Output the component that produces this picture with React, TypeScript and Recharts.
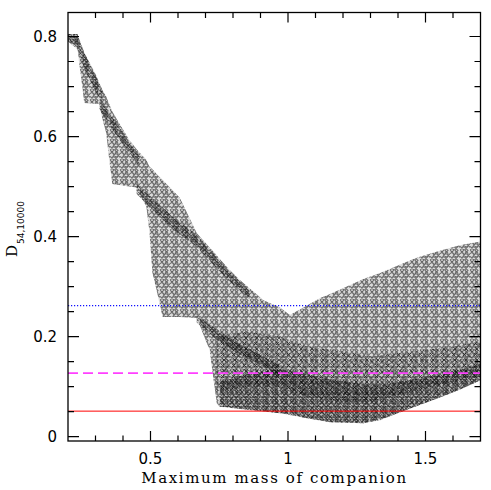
import React from "react";
import { ComposedChart, Area, XAxis, YAxis, ReferenceLine } from "recharts";

// outer envelope of the cloud of points (x = max companion mass, D low/high)
const envX = [0.2, 0.234, 0.241, 0.252, 0.259, 0.314, 0.325, 0.339, 0.35, 0.361, 0.423, 0.449, 0.485, 0.496, 0.507, 0.522, 0.544, 0.606, 0.668, 0.715, 0.726, 0.741, 0.752, 0.788, 0.825, 0.887, 0.909, 0.971, 1.007, 1.069, 1.117, 1.153, 1.214, 1.274, 1.335, 1.361, 1.456, 1.482, 1.555, 1.628, 1.7];
const envLow = [0.79, 0.78, 0.745, 0.7, 0.667, 0.665, 0.635, 0.607, 0.553, 0.505, 0.5, 0.498, 0.459, 0.41, 0.327, 0.293, 0.239, 0.239, 0.237, 0.173, 0.127, 0.067, 0.06, 0.059, 0.056, 0.053, 0.051, 0.047, 0.045, 0.037, 0.033, 0.029, 0.028, 0.027, 0.033, 0.039, 0.059, 0.064, 0.079, 0.095, 0.113];
const envHigh = [0.805, 0.805, 0.792, 0.778, 0.767, 0.705, 0.693, 0.68, 0.665, 0.65, 0.593, 0.575, 0.553, 0.54, 0.535, 0.525, 0.513, 0.478, 0.407, 0.378, 0.372, 0.362, 0.355, 0.333, 0.313, 0.284, 0.273, 0.258, 0.243, 0.262, 0.277, 0.285, 0.3, 0.315, 0.327, 0.333, 0.355, 0.36, 0.372, 0.383, 0.39];

// denser streaks inside the cloud
const ridge1X = [0.2, 0.234, 0.26, 0.3, 0.325];
const ridge1Low = [0.79, 0.775, 0.735, 0.69, 0.668];
const ridge1High = [0.805, 0.805, 0.767, 0.725, 0.693];

const ridge2X = [0.314, 0.36, 0.42, 0.46];
const ridge2Low = [0.655, 0.615, 0.57, 0.54];
const ridge2High = [0.675, 0.64, 0.59, 0.56];

const ridge3X = [0.449, 0.58, 0.668, 0.777, 0.86];
const ridge3Low = [0.485, 0.415, 0.38, 0.315, 0.275];
const ridge3High = [0.505, 0.44, 0.403, 0.335, 0.292];

const ridge4X = [0.668, 0.726, 0.814, 0.887, 0.97];
const ridge4Low = [0.228, 0.2, 0.167, 0.147, 0.122];
const ridge4High = [0.242, 0.22, 0.188, 0.167, 0.142];

const midX = [0.74, 0.85, 0.97, 1.07, 1.2, 1.3, 1.45, 1.6, 1.7];
const midLow = [0.09, 0.1, 0.1, 0.08, 0.07, 0.07, 0.09, 0.11, 0.12];
const midHigh = [0.2, 0.21, 0.2, 0.18, 0.17, 0.16, 0.17, 0.18, 0.19];

const bottomX = [0.752, 0.85, 0.971, 1.069, 1.153, 1.274, 1.361, 1.456, 1.555, 1.628, 1.7];
const bottomLow = [0.06, 0.054, 0.047, 0.037, 0.029, 0.027, 0.039, 0.059, 0.079, 0.095, 0.113];
const bottomHigh = [0.11, 0.125, 0.135, 0.125, 0.115, 0.105, 0.105, 0.115, 0.125, 0.135, 0.145];

// limits
const blueLevel = 0.262;
const magentaLevel = 0.127;
const redLevel = 0.051;

const xDomain = [0.2, 1.7];
const yDomain = [-0.0087, 0.848];
const xTicks = [0.3, 0.4, 0.5, 0.6, 0.7, 0.8, 0.9, 1, 1.1, 1.2, 1.3, 1.4, 1.5, 1.6];
const xMajor = [0.5, 1, 1.5];
const yTicks = [0, 0.05, 0.1, 0.15, 0.2, 0.25, 0.3, 0.35, 0.4, 0.45, 0.5, 0.55, 0.6, 0.65, 0.7, 0.75, 0.8];
const yMajor = [0, 0.2, 0.4, 0.6, 0.8];

const W = 491;
const H = 490;
const plot = { left: 68, right: 480.5, top: 12.5, bottom: 441 };

const band = (xs: number[], lo: number[], hi: number[]) =>
  xs.map((x, i) => ({ x, band: [lo[i], hi[i]] }));

const isMajor = (v: number, majors: number[]) => majors.some((m) => Math.abs(m - v) < 1e-6);

const sans = "'DejaVu Sans', sans-serif";
const serif = "'DejaVu Serif', serif";

function BottomLabel(props: any) {
  const { x, y, payload } = props;
  if (!isMajor(payload.value, xMajor)) return <g />;
  return (
    <text x={x} y={y + 23} textAnchor="middle" fontFamily={sans} fontSize={15} fill="#000">
      {String(payload.value)}
    </text>
  );
}

function LeftLabel(props: any) {
  const { x, y, payload } = props;
  if (!isMajor(payload.value, yMajor)) return <g />;
  return (
    <text x={x - 11} y={y} dy="0.36em" textAnchor="end" fontFamily={sans} fontSize={15} fill="#000">
      {String(payload.value)}
    </text>
  );
}

// frame with inward tick marks, laid over the chart
function Frame() {
  const sx = (v: number) => plot.left + ((v - xDomain[0]) / (xDomain[1] - xDomain[0])) * (plot.right - plot.left);
  const sy = (v: number) => plot.bottom - ((v - yDomain[0]) / (yDomain[1] - yDomain[0])) * (plot.bottom - plot.top);
  let d = "";
  xTicks.forEach((v) => {
    const len = isMajor(v, xMajor) ? 10 : 5.5;
    const x = sx(v);
    d += `M${x},${plot.bottom}V${plot.bottom - len}M${x},${plot.top}V${plot.top + len}`;
  });
  yTicks.forEach((v) => {
    const len = isMajor(v, yMajor) ? 11 : 6;
    const y = sy(v);
    d += `M${plot.left},${y}H${plot.left + len}M${plot.right},${y}H${plot.right - len}`;
  });
  return (
    <svg width={W} height={H} style={{ position: "absolute", left: 0, top: 0, pointerEvents: "none" }}>
      <rect
        x={plot.left}
        y={plot.top}
        width={plot.right - plot.left}
        height={plot.bottom - plot.top}
        fill="none"
        stroke="#000"
        strokeWidth={1.3}
      />
      <path d={d} stroke="#000" strokeWidth={1.2} fill="none" />
    </svg>
  );
}

const cross = (cx: number, cy: number, r: number) =>
  `M${cx - r},${cy - r}L${cx + r},${cy + r}M${cx - r},${cy + r}L${cx + r},${cy - r}`;

const patA = [[2, 2], [6.5, 1.8], [4.3, 5], [8.2, 5.5], [2, 8.2], [6, 8.5]];
const patB = [[2.2, 2], [6.2, 2.8], [3.5, 6], [7, 6.8]];
const patC = [[2.5, 2.5], [7.5, 4], [4, 8], [8.5, 9]];

function Pattern({ id, size, pts, width, shade }: { id: string; size: number; pts: number[][]; width: number; shade: number }) {
  return (
    <pattern id={id} width={size} height={size} patternUnits="userSpaceOnUse">
      <rect width={size} height={size} fill="#000" fillOpacity={shade} />
      <path d={pts.map((p) => cross(p[0], p[1], 1.8)).join("")} stroke="#000" strokeWidth={width} fill="none" />
    </pattern>
  );
}

export default function App() {
  const areaProps = {
    type: "linear" as const,
    dataKey: "band",
    stroke: "none",
    xAxisId: "bottom",
    yAxisId: "left",
    isAnimationActive: false,
    dot: false,
    activeDot: false,
  };
  const axisIds = { xAxisId: "bottom", yAxisId: "left" };
  const common = { type: "number" as const, allowDataOverflow: true, interval: 0, tickSize: 0, tickMargin: 0, tickLine: false, axisLine: false };
  return (
    <div style={{ position: "absolute", left: 0, top: 0, width: W, height: H, background: "#fff" }}>
      <ComposedChart width={W} height={H} margin={{ top: 0, right: 0, bottom: 0, left: 0 }}>
        <defs>
          <Pattern id="pA" size={10} pts={patA} width={1.1} shade={0.24} />
          <Pattern id="pB" size={9} pts={patB} width={1.1} shade={0.22} />
          <Pattern id="pC" size={11} pts={patC} width={1} shade={0.14} />
        </defs>
        <XAxis
          {...common}
          xAxisId="bottom"
          dataKey="x"
          domain={xDomain}
          ticks={xTicks}
          height={H - plot.bottom}
          tick={BottomLabel}
          label={{
            content: () => (
              <text x={274.5} y={483} textAnchor="middle" fontFamily={serif} fontSize={15} letterSpacing={1.6} fill="#000">
                Maximum mass of companion
              </text>
            ),
          }}
        />
        <XAxis {...common} xAxisId="top" orientation="top" dataKey="x" domain={xDomain} height={plot.top} tick={false} />
        <YAxis
          {...common}
          yAxisId="left"
          domain={yDomain}
          ticks={yTicks}
          width={plot.left}
          tick={LeftLabel}
          label={{
            content: () => (
              <text transform="rotate(-90 17 257)" x={17} y={257} fontFamily={serif} fontSize={15} fill="#000">
                D
                <tspan fontFamily={sans} fontSize={9} dx={1} dy={7}>
                  54,10000
                </tspan>
              </text>
            ),
          }}
        />
        <YAxis {...common} yAxisId="right" orientation="right" domain={yDomain} width={W - plot.right} tick={false} />
        <Area {...areaProps} data={band(envX, envLow, envHigh)} fill="url(#pA)" />
        <Area {...areaProps} data={band(midX, midLow, midHigh)} fill="url(#pC)" />
        <Area {...areaProps} data={band(bottomX, bottomLow, bottomHigh)} fill="url(#pB)" />
        <Area {...areaProps} data={band(ridge1X, ridge1Low, ridge1High)} fill="url(#pB)" />
        <Area {...areaProps} data={band(ridge2X, ridge2Low, ridge2High)} fill="url(#pB)" />
        <Area {...areaProps} data={band(ridge3X, ridge3Low, ridge3High)} fill="url(#pB)" />
        <Area {...areaProps} data={band(ridge4X, ridge4Low, ridge4High)} fill="url(#pB)" />
        <ReferenceLine {...axisIds} y={blueLevel} stroke="#1010ff" strokeWidth={1.2} strokeDasharray="1.2 1.8" />
        <ReferenceLine {...axisIds} y={magentaLevel} stroke="#ff40ff" strokeWidth={1.6} strokeDasharray="10 5" />
        <ReferenceLine {...axisIds} y={redLevel} stroke="#ff0000" strokeWidth={1} />
      </ComposedChart>
      <Frame />
    </div>
  );
}
